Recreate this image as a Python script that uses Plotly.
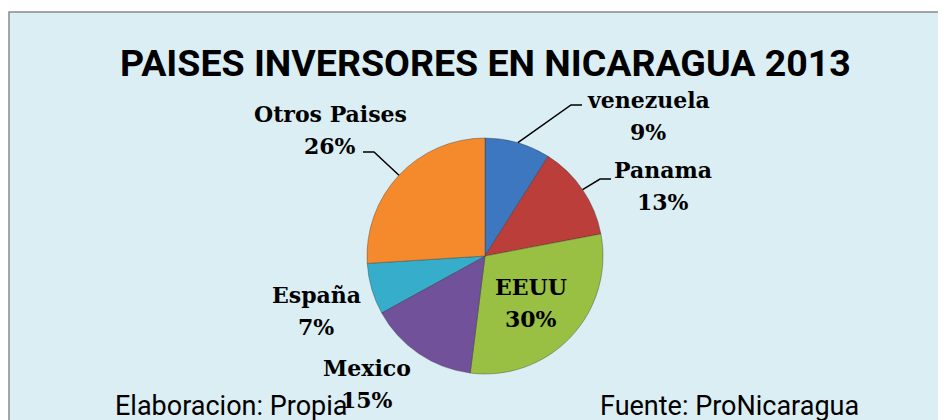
import math
import plotly.graph_objects as go

# ---- data ----
countries = ["venezuela", "Panama", "EEUU", "Mexico", "España", "Otros Paises"]
shares = [9, 13, 30, 15, 7, 26]
title_text = "PAISES INVERSORES EN NICARAGUA 2013"
note_left = "Elaboracion: Propia"
note_right = "Fuente: ProNicaragua"

# ---- style / layout ----
PAGE_OFF = 8                      # body margin of the html page
W, H = 946 - PAGE_OFF, 420 - PAGE_OFF
colors = ["#3D77C0", "#BC3E3B", "#99BF43", "#70519A", "#36AECB", "#F58A2D"]
CX, CY, R = 485, 256, 118            # pie centre / radius in screen px
# label centre offsets from pie centre (px)
label_off = {
    "venezuela": (163, -140), "Panama": (178, -70), "EEUU": (46, 47),
    "Mexico": (-118, 128), "España": (-169, 55), "Otros Paises": (-155, -126),
}
# leader line end offsets from pie centre (px) and horizontal tail length
leader_end = {"venezuela": (97, -151), "Panama": (126, -77), "Otros Paises": (-122, -104)}
TAIL = 11
LABEL_FONT = dict(family="DejaVu Serif", size=22, color="black")
SANS = "Roboto"


def px(x, y):
    """screen px -> paper coords"""
    return (x - PAGE_OFF) / W, 1 - (y - PAGE_OFF) / H


fig = go.Figure()
dx0, dy1 = px(CX - R, CY - R)
dx1, dy0 = px(CX + R, CY + R)
fig.add_trace(go.Pie(
    labels=countries, values=shares, sort=False, direction="clockwise", rotation=0,
    marker=dict(colors=colors, line=dict(color="rgba(40,40,40,0.35)", width=1)),
    textinfo="none", hoverinfo="label+percent", showlegend=False,
    domain=dict(x=[dx0, dx1], y=[dy0, dy1]),
))

shapes = []
bx0, by1 = px(9, 12)
shapes.append(dict(type="rect", xref="paper", yref="paper",
                   x0=bx0, x1=1.05, y0=-0.05, y1=by1,
                   fillcolor="#DBEEF3", line=dict(color="#8A8A8A", width=1.5), layer="below"))

annotations = []
total = sum(shares)
cum = 0
for name, v in zip(countries, shares):
    mid = (cum + v / 2) / total * 2 * math.pi
    cum += v
    dx, dy = label_off[name]
    pct = f"{round(v / total * 100)}%"
    for txt, off in ((name, -16), (pct, 16)):
        x, y = px(CX + dx, CY + dy + off)
        annotations.append(dict(text=f"<b>{txt}</b>", x=x, y=y, xref="paper", yref="paper",
                                showarrow=False, xanchor="center", yanchor="middle",
                                font=LABEL_FONT))
    if name in leader_end:
        sx, sy = CX + R * math.sin(mid), CY - R * math.cos(mid)
        ex, ey = CX + leader_end[name][0], CY + leader_end[name][1]
        bx = ex - TAIL if ex > CX else ex + TAIL
        pts = [px(sx, sy), px(bx, ey), px(ex, ey)]
        path = "M {} {} L {} {} L {} {}".format(*[c for p in pts for c in p])
        shapes.append(dict(type="path", xref="paper", yref="paper", path=path,
                           line=dict(color="black", width=1.5)))

tx, ty = px(486, 63)
annotations.append(dict(text=f"<b>{title_text}</b>", x=tx, y=ty, xref="paper", yref="paper",
                        showarrow=False, xanchor="center", yanchor="middle",
                        font=dict(family=SANS, size=37.5, color="black")))
lx, ly = px(231, 406)
annotations.append(dict(text=note_left, x=lx, y=ly, xref="paper", yref="paper", showarrow=False,
                        xanchor="center", yanchor="middle",
                        font=dict(family=SANS, size=27, color="black")))
rx, ry = px(729, 406)
annotations.append(dict(text=note_right, x=rx, y=ry, xref="paper", yref="paper", showarrow=False,
                        xanchor="center", yanchor="middle",
                        font=dict(family=SANS, size=27, color="black")))

fig.update_layout(width=W, height=H, margin=dict(l=0, r=0, t=0, b=0),
                  paper_bgcolor="white", plot_bgcolor="white",
                  shapes=shapes, annotations=annotations)
fig.write_html("out.html")
